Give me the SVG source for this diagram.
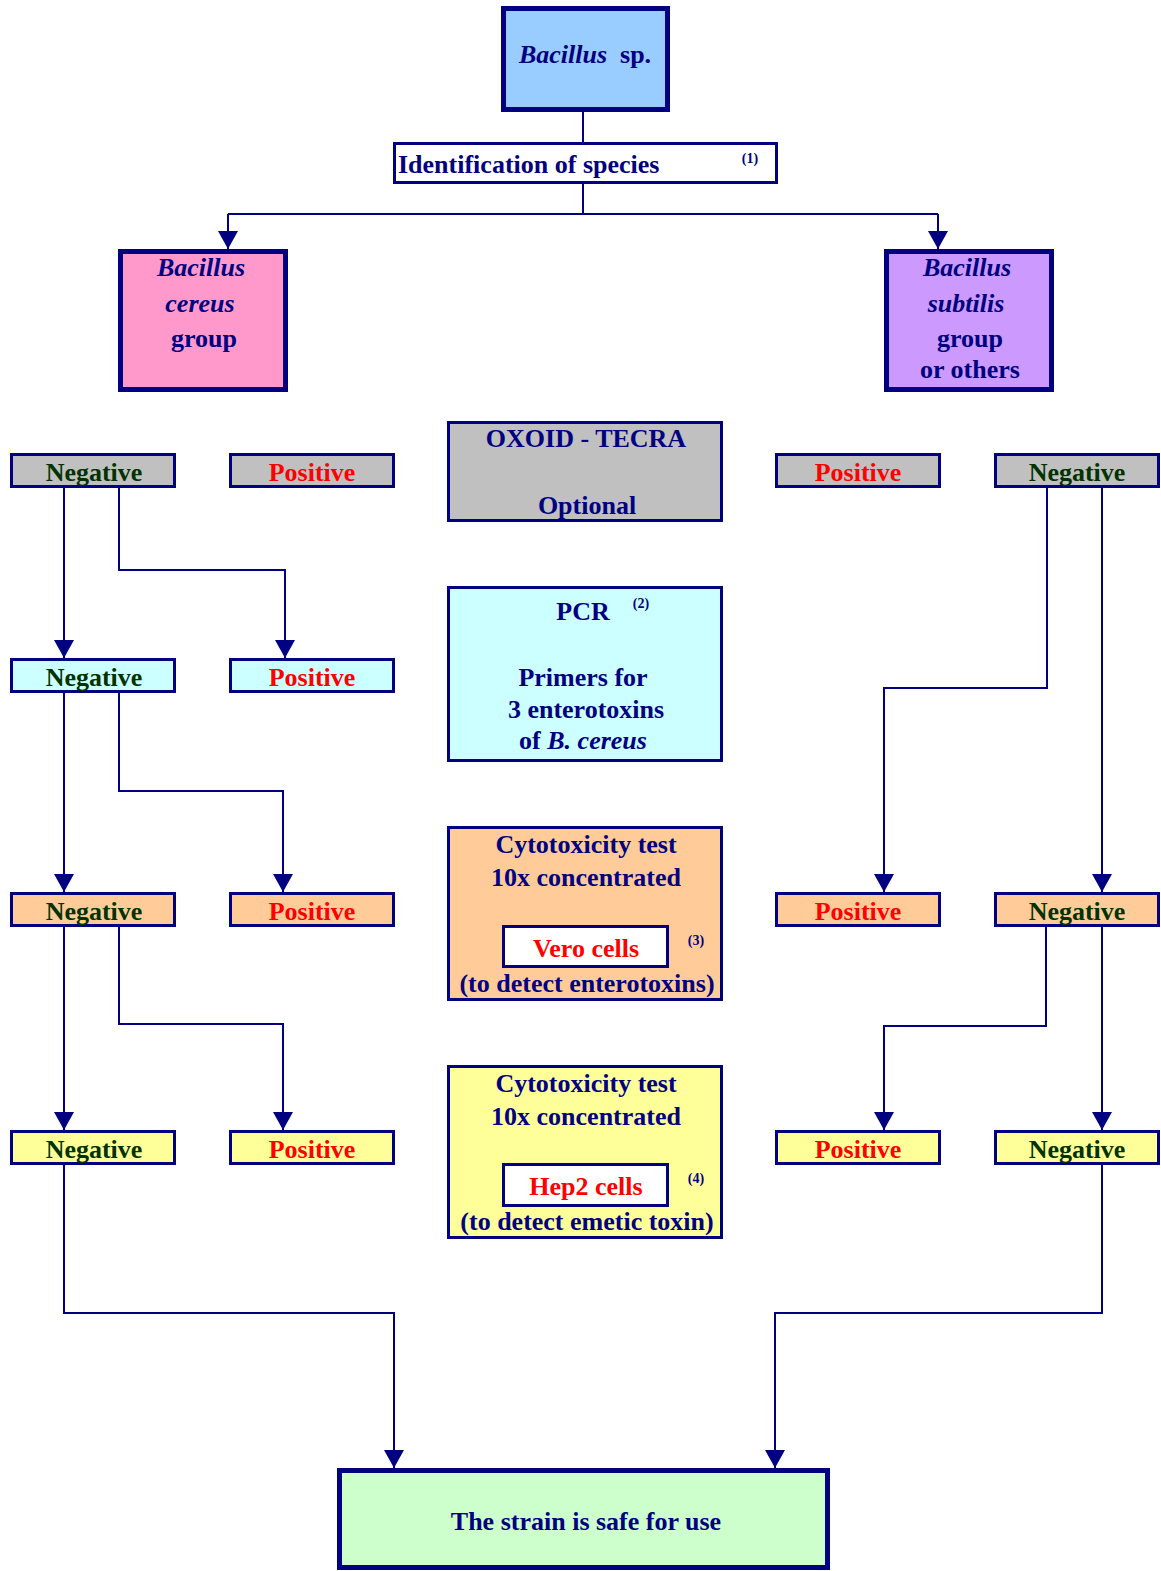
<svg xmlns="http://www.w3.org/2000/svg" width="1161" height="1571" viewBox="0 0 1161 1571">
<style>
text{font-family:"Liberation Serif","Times New Roman",serif;font-weight:bold;font-size:26px;fill:#000080;text-anchor:middle}
.i{font-style:italic}
.neg{fill:#003300}
.pos{fill:#FF0000}
.sup{font-size:14px}
.b5{stroke:#000080;stroke-width:5}
.b3{stroke:#000080;stroke-width:3}
.grey{fill:#C0C0C0}.cyan{fill:#CCFFFF}.orange{fill:#FFCC99}.yellow{fill:#FFFF99}
.c{fill:none;stroke:#000080;stroke-width:2}
.ca{fill:none;stroke:#000080;stroke-width:2;marker-end:url(#ah)}
</style>
<defs>
<marker id="ah" markerUnits="userSpaceOnUse" viewBox="0 -10 18 20" markerWidth="18" markerHeight="20" refX="18" refY="0" orient="auto">
<path d="M0,-10 L18,0 L0,10 z" fill="#000080"/>
</marker>
</defs>
<rect width="1161" height="1571" fill="#FFFFFF"/>

<g id="connectors">
<path class="c" d="M583,112 V142"/>
<path class="c" d="M583,184 V214 M228,214 H938"/>
<path class="ca" d="M228,214 V249"/>
<path class="ca" d="M938,214 V249"/>
<path class="ca" d="M64,488 V658"/>
<path class="ca" d="M119,488 V570 H285 V658"/>
<path class="ca" d="M64,693 V892"/>
<path class="ca" d="M119,693 V791 H283 V892"/>
<path class="ca" d="M64,927 V1130"/>
<path class="ca" d="M119,927 V1024 H283 V1130"/>
<path class="ca" d="M64,1165 V1313 H394 V1468"/>
<path class="ca" d="M1047,488 V688 H884 V892"/>
<path class="ca" d="M1102,488 V892"/>
<path class="ca" d="M1046,927 V1026 H884 V1130"/>
<path class="ca" d="M1102,927 V1130"/>
<path class="ca" d="M1102,1165 V1313 H775 V1468"/>
</g>

<g id="bacillus-sp">
<rect class="b5" x="503.5" y="8.5" width="164" height="101" fill="#99CCFF"/>
<text x="585" y="63"><tspan class="i">Bacillus</tspan>&#160; sp.</text>
</g>

<g id="identification">
<rect class="b3" x="394.5" y="143.5" width="382" height="39" fill="#FFFFFF"/>
<text x="398" y="173" style="text-anchor:start">Identification of species</text>
<text class="sup" x="750" y="163">(1)</text>
</g>

<g id="cereus-group">
<rect class="b5" x="120.5" y="251.5" width="165" height="138" fill="#FF99CC"/>
<text class="i" x="201" y="276">Bacillus</text>
<text class="i" x="200" y="312">cereus</text>
<text x="204" y="347">group</text>
</g>

<g id="subtilis-group">
<rect class="b5" x="886.5" y="251.5" width="165" height="138" fill="#CC99FF"/>
<text class="i" x="967" y="276">Bacillus</text>
<text class="i" x="966" y="312">subtilis</text>
<text x="970" y="347">group</text>
<text x="970" y="378">or others</text>
</g>

<g id="oxoid">
<rect class="b3 grey" x="448.5" y="422.5" width="273" height="98"/>
<text x="586" y="447">OXOID - TECRA</text>
<text x="587" y="514">Optional</text>
</g>

<g id="pcr">
<rect class="b3 cyan" x="448.5" y="587.5" width="273" height="173"/>
<text x="583" y="620">PCR</text>
<text class="sup" x="641" y="608">(2)</text>
<text x="583" y="686">Primers for</text>
<text x="586" y="718">3 enterotoxins</text>
<text x="583" y="749">of <tspan class="i">B. cereus</tspan></text>
</g>

<g id="cyto-vero">
<rect class="b3 orange" x="448.5" y="827.5" width="273" height="172"/>
<text x="586" y="853">Cytotoxicity test</text>
<text x="586" y="886">10x concentrated</text>
<rect class="b3" x="503.5" y="926.5" width="164" height="40" fill="#FFFFFF"/>
<text class="pos" x="586" y="957">Vero cells</text>
<text class="sup" x="696" y="945">(3)</text>
<text x="587" y="992">(to detect enterotoxins)</text>
</g>

<g id="cyto-hep2">
<rect class="b3 yellow" x="448.5" y="1066.5" width="273" height="171"/>
<text x="586" y="1092">Cytotoxicity test</text>
<text x="586" y="1125">10x concentrated</text>
<rect class="b3" x="503.5" y="1164.5" width="164" height="41" fill="#FFFFFF"/>
<text class="pos" x="586" y="1195">Hep2 cells</text>
<text class="sup" x="696" y="1183">(4)</text>
<text x="587" y="1230">(to detect emetic toxin)</text>
</g>

<g id="r1-left-neg"><rect class="b3 grey" x="11.5" y="454.5" width="163" height="32"/><text class="neg" x="94" y="481">Negative</text></g>
<g id="r1-left-pos"><rect class="b3 grey" x="230.5" y="454.5" width="163" height="32"/><text class="pos" x="312" y="481">Positive</text></g>
<g id="r1-right-pos"><rect class="b3 grey" x="776.5" y="454.5" width="163" height="32"/><text class="pos" x="858" y="481">Positive</text></g>
<g id="r1-right-neg"><rect class="b3 grey" x="995.5" y="454.5" width="163" height="32"/><text class="neg" x="1077" y="481">Negative</text></g>

<g id="r2-left-neg"><rect class="b3 cyan" x="11.5" y="659.5" width="163" height="32"/><text class="neg" x="94" y="686">Negative</text></g>
<g id="r2-left-pos"><rect class="b3 cyan" x="230.5" y="659.5" width="163" height="32"/><text class="pos" x="312" y="686">Positive</text></g>

<g id="r3-left-neg"><rect class="b3 orange" x="11.5" y="893.5" width="163" height="32"/><text class="neg" x="94" y="920">Negative</text></g>
<g id="r3-left-pos"><rect class="b3 orange" x="230.5" y="893.5" width="163" height="32"/><text class="pos" x="312" y="920">Positive</text></g>
<g id="r3-right-pos"><rect class="b3 orange" x="776.5" y="893.5" width="163" height="32"/><text class="pos" x="858" y="920">Positive</text></g>
<g id="r3-right-neg"><rect class="b3 orange" x="995.5" y="893.5" width="163" height="32"/><text class="neg" x="1077" y="920">Negative</text></g>

<g id="r4-left-neg"><rect class="b3 yellow" x="11.5" y="1131.5" width="163" height="32"/><text class="neg" x="94" y="1158">Negative</text></g>
<g id="r4-left-pos"><rect class="b3 yellow" x="230.5" y="1131.5" width="163" height="32"/><text class="pos" x="312" y="1158">Positive</text></g>
<g id="r4-right-pos"><rect class="b3 yellow" x="776.5" y="1131.5" width="163" height="32"/><text class="pos" x="858" y="1158">Positive</text></g>
<g id="r4-right-neg"><rect class="b3 yellow" x="995.5" y="1131.5" width="163" height="32"/><text class="neg" x="1077" y="1158">Negative</text></g>

<g id="safe">
<rect class="b5" x="339.5" y="1470.5" width="488" height="97" fill="#CCFFCC"/>
<text x="586" y="1530">The strain is safe for use</text>
</g>
</svg>
